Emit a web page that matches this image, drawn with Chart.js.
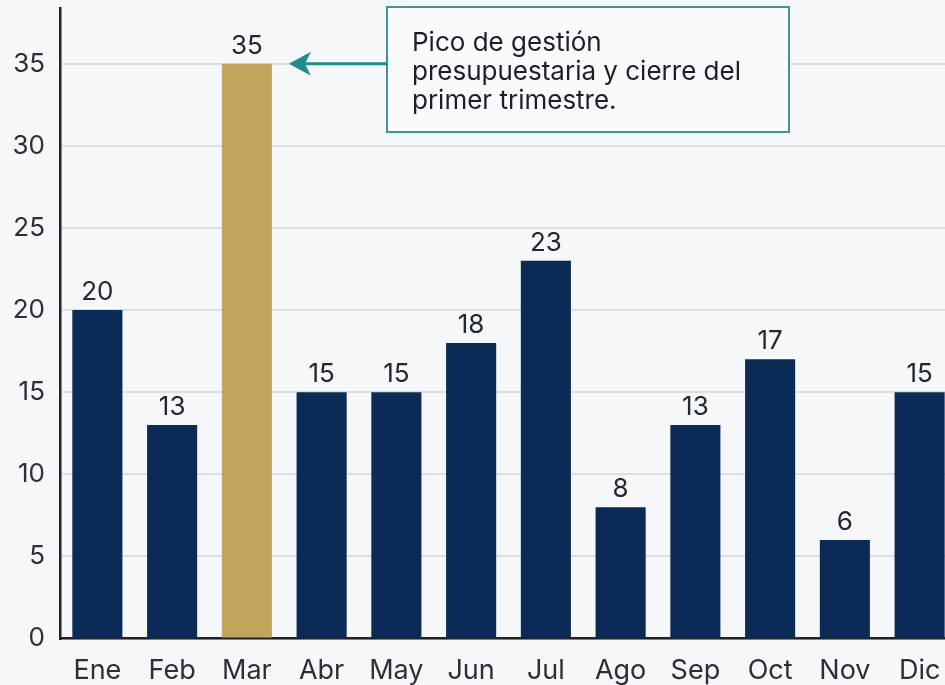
<!DOCTYPE html>
<html>
<head>
<meta charset="utf-8">
<script src="https://cdn.jsdelivr.net/npm/chart.js@4/dist/chart.umd.min.js"></script>
<style>
    html, body { margin: 0; padding: 0; overflow: hidden; background: #f6f7f9; }
    #wrap { position: relative; width: 960px; height: 685px; }
</style>
</head>
<body>
<div id="wrap"><canvas id="chart"></canvas></div>
<script>
const months = ['Ene', 'Feb', 'Mar', 'Abr', 'May', 'Jun', 'Jul', 'Ago', 'Sep', 'Oct', 'Nov', 'Dic'];
const values = [20, 13, 35, 15, 15, 18, 23, 8, 13, 17, 6, 15];
const highlightIndex = 2;
const noteLines = ['Pico de gestión', 'presupuestaria y cierre del', 'primer trimestre.'];

const navy = '#0c2a56';
const gold = '#c2a55c';
const teal = '#238b8b';
const fontFamily = 'Inter, "Noto Sans", sans-serif';

// Value labels above each bar
const valueLabels = {
    id: 'valueLabels',
    afterDatasetsDraw(chart) {
        const ctx = chart.ctx;
        const meta = chart.getDatasetMeta(0);
        ctx.save();
        ctx.font = '26px ' + fontFamily;
        ctx.fillStyle = '#222831';
        ctx.textAlign = 'center';
        ctx.textBaseline = 'alphabetic';
        meta.data.forEach((bar, i) => {
            ctx.fillText(String(values[i]), bar.x, bar.y - 10);
        });
        ctx.restore();
    }
};

// Callout box with arrow pointing at the highlighted bar
const callout = {
    id: 'callout',
    afterDraw(chart) {
        const ctx = chart.ctx;
        const bar = chart.getDatasetMeta(0).data[highlightIndex];
        const tipX = bar.x + bar.width / 2 + 17;
        const tipY = chart.scales.y.getPixelForValue(values[highlightIndex]);
        const boxX = 387, boxY = 7, boxW = 402, boxH = 125;

        ctx.save();
        ctx.fillStyle = '#f9fafb';
        ctx.fillRect(boxX, boxY, boxW, boxH);
        ctx.strokeStyle = '#3f9494';
        ctx.lineWidth = 2;
        ctx.strokeRect(boxX, boxY, boxW, boxH);

        ctx.fillStyle = '#1b1f2a';
        ctx.font = '26px ' + fontFamily;
        ctx.textAlign = 'left';
        ctx.textBaseline = 'alphabetic';
        noteLines.forEach((line, i) => {
            ctx.fillText(line, boxX + 25, 51 + i * 29);
        });

        // arrow shaft
        ctx.strokeStyle = teal;
        ctx.lineWidth = 3;
        ctx.beginPath();
        ctx.moveTo(boxX, tipY);
        ctx.lineTo(tipX + 14, tipY);
        ctx.stroke();
        // arrow head
        ctx.fillStyle = teal;
        ctx.beginPath();
        ctx.moveTo(tipX, tipY);
        ctx.lineTo(tipX + 22, tipY - 12);
        ctx.lineTo(tipX + 16, tipY);
        ctx.lineTo(tipX + 22, tipY + 12);
        ctx.closePath();
        ctx.fill();
        ctx.restore();
    }
};

new Chart(document.getElementById('chart'), {
    type: 'bar',
    data: {
        labels: months,
        datasets: [{
            data: values,
            backgroundColor: values.map((v, i) => i === highlightIndex ? gold : navy),
            borderWidth: 0,
            barPercentage: 0.67,
            categoryPercentage: 1.0
        }]
    },
    options: {
        responsive: true,
        maintainAspectRatio: false,
        animation: false,
        layout: { padding: { top: 8, right: 3, left: 0, bottom: 0 } },
        plugins: {
            legend: { display: false },
            tooltip: { enabled: false }
        },
        scales: {
            x: {
                afterFit(scale) { scale.height = 46.5; },
                grid: { display: false, drawTicks: false },
                border: { display: true, color: '#1c2430', width: 2.5 },
                ticks: {
                    color: '#2a2f38',
                    padding: 16,
                    font: { size: 27, family: fontFamily }
                }
            },
            y: {
                min: 0,
                max: 38.4,
                afterBuildTicks(scale) {
                    scale.ticks = scale.ticks.filter(t => t.value % 5 === 0);
                },
                afterFit(scale) { scale.width = 60; },
                grid: {
                    color: '#dcdee2',
                    lineWidth: 2,
                    drawTicks: true,
                    tickLength: 15,
                    tickColor: 'transparent'
                },
                border: { display: true, color: '#1c2430', width: 2.5 },
                ticks: {
                    stepSize: 5,
                    color: '#2a2f38',
                    padding: 0,
                    font: { size: 26, family: fontFamily, lineHeight: 0.6 }
                }
            }
        }
    },
    plugins: [valueLabels, callout]
});
</script>
</body>
</html>
